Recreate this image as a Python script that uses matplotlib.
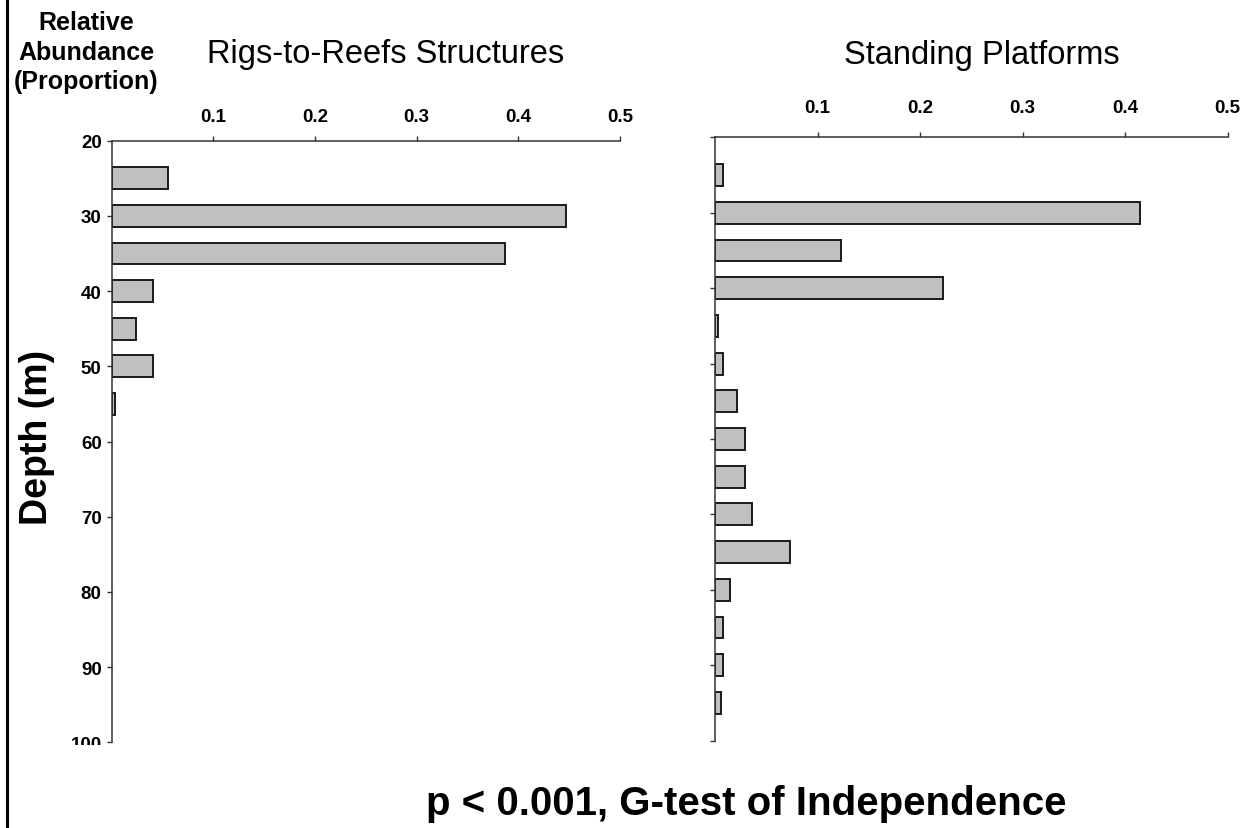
import matplotlib
matplotlib.use("Agg")
import matplotlib.pyplot as plt
from matplotlib.lines import Line2D
from matplotlib.transforms import Bbox, TransformedBbox

# Depth bins (m, bin centres) and relative abundance (proportion) per habitat type
depth_reefs = [25, 30, 35, 40, 45, 50, 55]
prop_reefs = [0.056, 0.447, 0.387, 0.041, 0.024, 0.041, 0.003]

depth_platforms = [25, 30, 35, 40, 45, 50, 55, 60, 65, 70, 75, 80, 85, 90, 95]
prop_platforms = [0.008, 0.415, 0.123, 0.222, 0.003, 0.008, 0.021, 0.029,
                  0.029, 0.036, 0.073, 0.015, 0.0075, 0.0075, 0.006]

depth_ticks = [20, 30, 40, 50, 60, 70, 80, 90, 100]
prop_ticks = [0.1, 0.2, 0.3, 0.4, 0.5]
prop_ticklabels = ["0.1", "0.2", "0.3", "0.4", "0.5"]

panel_titles = ["Rigs-to-Reefs Structures", "Standing Platforms"]

plt.rcParams["font.family"] = ["Liberation Sans", "DejaVu Sans"]

W, H = 1254, 829
fig = plt.figure(figsize=(W / 100, H / 100), dpi=100)


def px_axes(x0, y0, x1, y1):
    return fig.add_axes([x0 / W, 1 - y1 / H, (x1 - x0) / W, (y1 - y0) / H])


ax_l = px_axes(111.5, 141.7, 620.0, 743.3)
ax_r = px_axes(715.0, 138.3, 1227.5, 741.7)

bar_kw = dict(height=2.9, color="#c0c0c0", edgecolor="#1a1a1a", linewidth=1.4)
ax_l.barh(depth_reefs, prop_reefs, **bar_kw)
ax_r.barh(depth_platforms, prop_platforms, **bar_kw)

for ax, pad in ((ax_l, 8.0), (ax_r, 11.5)):
    ax.set_xlim(0, 0.5)
    ax.set_ylim(100, 20)
    ax.xaxis.tick_top()
    ax.set_xticks(prop_ticks)
    ax.set_xticklabels(prop_ticklabels, fontsize=13.5, fontweight="bold")
    ax.set_yticks(depth_ticks)
    for side in ("right", "bottom"):
        ax.spines[side].set_visible(False)
    for side in ("left", "top"):
        ax.spines[side].set_color("#333333")
        ax.spines[side].set_linewidth(1.1)
    ax.tick_params(axis="x", direction="out", length=3.6, width=1.0,
                   color="#333333", pad=pad)
    ax.tick_params(axis="y", direction="out", length=3.6, width=1.0,
                   color="#333333", pad=3.5, labelsize=13.5)
    ax.set_facecolor("none")

ax_l.set_yticklabels([str(d) for d in depth_ticks], fontweight="bold")
ax_r.set_yticklabels([])

# bottom-most depth label is cut off at the lower edge of the axis region
fig.canvas.draw()
last = ax_l.get_yticklabels()[-1]
clip = TransformedBbox(Bbox([[0, 1 - 745.5 / H], [1, 1]]), fig.transFigure)
last.set_clip_box(clip)
last.set_clip_on(True)

# panel titles
fig.text(386 / W, 1 - 63 / H, panel_titles[0], fontsize=23.5, ha="center",
         va="baseline")
fig.text(982 / W, 1 - 64 / H, panel_titles[1], fontsize=23.5, ha="center",
         va="baseline")

# axis titles
fig.text(86 / W, 1 - 11 / H, "Relative\nAbundance\n(Proportion)", fontsize=18,
         fontweight="bold", ha="center", va="top", linespacing=1.3,
         multialignment="center")
fig.text(37 / W, 1 - 437 / H, "Depth (m)", fontsize=27, fontweight="bold",
         rotation=90, ha="center", va="center")

fig.text(746 / W, 1 - 815 / H, "p < 0.001, G-test of Independence",
         fontsize=29, fontweight="bold", ha="center", va="baseline")

# frame rule along the left edge
fig.add_artist(Line2D([6.5 / W, 6.5 / W], [0, 1], transform=fig.transFigure,
                      color="black", linewidth=2.2))

fig.savefig("out.png", dpi=100)
